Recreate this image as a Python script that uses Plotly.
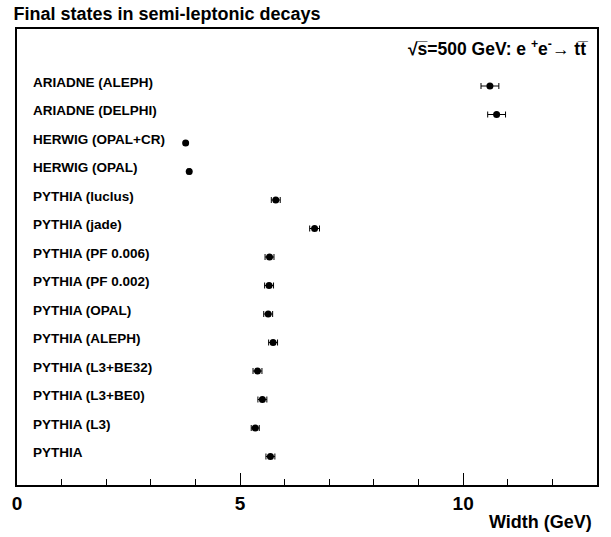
import plotly.graph_objects as go

labels = ["PYTHIA", "PYTHIA (L3)", "PYTHIA (L3+BE0)", "PYTHIA (L3+BE32)", "PYTHIA (ALEPH)",
          "PYTHIA (OPAL)", "PYTHIA (PF 0.002)", "PYTHIA (PF 0.006)", "PYTHIA (jade)",
          "PYTHIA (luclus)", "HERWIG (OPAL)", "HERWIG (OPAL+CR)", "ARIADNE (DELPHI)",
          "ARIADNE (ALEPH)"]
rows = list(range(1, 15))
widths = [5.68, 5.34, 5.50, 5.39, 5.74, 5.63, 5.65, 5.66, 6.67, 5.80, 3.86, 3.78, 10.75, 10.60]
errors = [0.10, 0.09, 0.10, 0.10, 0.10, 0.10, 0.10, 0.10, 0.11, 0.10, 0.03, 0.03, 0.20, 0.20]
xticks = [0, 5, 10]

FONT = "Liberation Sans, Arial, Helvetica, sans-serif"

fig = go.Figure()
fig.add_trace(go.Scatter(
    x=widths, y=rows, mode="markers",
    marker=dict(color="black", size=7, symbol="circle"),
    error_x=dict(type="data", array=errors, color="black", thickness=1, width=3, visible=True),
    showlegend=False, hoverinfo="skip",
))

for lab, r in zip(labels, rows):
    fig.add_annotation(text=lab, x=0.024, xref="paper", y=r, yref="y", xanchor="left",
                       yanchor="middle", yshift=4, showarrow=False,
                       font=dict(family=FONT, size=13.5, color="black", weight="bold"))

fig.add_annotation(text="√s\u0305=500 GeV: e <sup>+</sup>e<sup>-</sup>\u2192 tt\u0305", x=0.988, xref="paper",
                   y=0.958, yref="paper", xanchor="right", yanchor="middle", showarrow=False,
                   font=dict(family=FONT, size=17.5, color="black", weight="bold"))

fig.add_annotation(text="Width (GeV)", x=0.994, xref="paper", y=-0.082, yref="paper",
                   xanchor="right", yanchor="middle", showarrow=False,
                   font=dict(family=FONT, size=18, color="black", weight="bold"))

fig.update_layout(
    width=611, height=537,
    margin=dict(l=15, r=14, t=29, b=52),
    paper_bgcolor="white", plot_bgcolor="white",
    title=dict(text="Final states in semi-leptonic decays", x=0.022, xanchor="left",
               y=0.974, yanchor="middle",
               font=dict(family=FONT, size=18, color="black", weight="bold")),
    xaxis=dict(range=[0, 13], tickvals=xticks, ticktext=[str(v) for v in xticks],
               ticks="inside", ticklen=12, tickwidth=1, tickcolor="black",
               minor=dict(dtick=1, ticks="inside", ticklen=6, tickcolor="black", tickwidth=1),
               showgrid=False, zeroline=False, showline=True, linecolor="black", linewidth=1.5,
               mirror=True,
               tickfont=dict(family=FONT, size=19, color="black", weight="bold")),
    yaxis=dict(range=[0, 16], showticklabels=False, ticks="", showgrid=False, zeroline=False,
               showline=True, linecolor="black", linewidth=1.5, mirror=True),
)
fig.write_html("out.html")
